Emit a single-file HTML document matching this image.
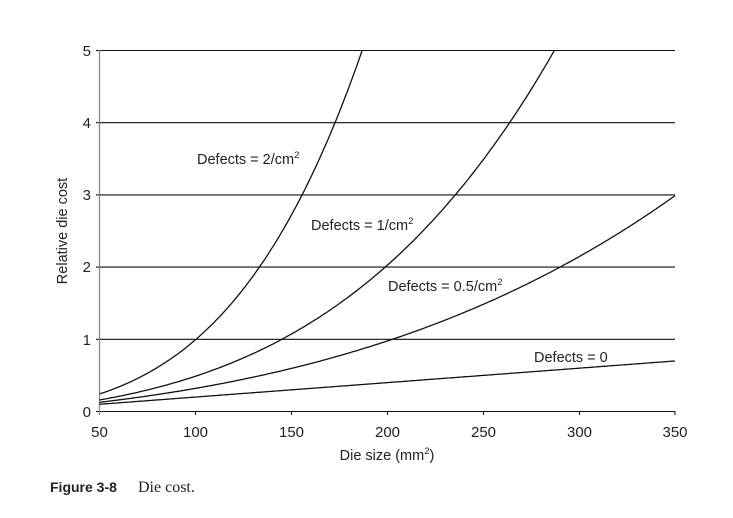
<!DOCTYPE html><html><head><style>body{margin:0;background:#fff}svg{display:block}text{font-family:"Liberation Sans",Arial,sans-serif;fill:#222}</style></head><body>
<svg id="s" width="733" height="518" xmlns="http://www.w3.org/2000/svg">
<g stroke="#111" stroke-width="1.1">
<line x1="99.5" y1="50.5" x2="675" y2="50.5"/><line x1="99.5" y1="122.7" x2="675" y2="122.7"/><line x1="99.5" y1="194.9" x2="675" y2="194.9"/><line x1="99.5" y1="267.1" x2="675" y2="267.1"/><line x1="99.5" y1="339.3" x2="675" y2="339.3"/><line x1="99.5" y1="411.5" x2="675" y2="411.5"/>
<line x1="96" y1="50.5" x2="99.5" y2="50.5"/><line x1="96" y1="122.7" x2="99.5" y2="122.7"/><line x1="96" y1="194.9" x2="99.5" y2="194.9"/><line x1="96" y1="267.1" x2="99.5" y2="267.1"/><line x1="96" y1="339.3" x2="99.5" y2="339.3"/><line x1="96" y1="411.5" x2="99.5" y2="411.5"/>
<line x1="195.5" y1="411.5" x2="195.5" y2="415"/><line x1="291.5" y1="411.5" x2="291.5" y2="415"/><line x1="387.5" y1="411.5" x2="387.5" y2="415"/><line x1="483.5" y1="411.5" x2="483.5" y2="415"/><line x1="579.5" y1="411.5" x2="579.5" y2="415"/><line x1="675" y1="411.5" x2="675" y2="415"/>
</g>
<line x1="99.5" y1="50" x2="99.5" y2="415" stroke="#888" stroke-width="1.3"/>
<g id="c" fill="none" stroke="#111" stroke-width="1.3"></g>
<g font-size="15" text-anchor="end"><text x="91" y="56">5</text><text x="91" y="128">4</text><text x="91" y="200">3</text><text x="91" y="272">2</text><text x="91" y="345">1</text><text x="91" y="417">0</text></g>
<g font-size="15" text-anchor="middle"><text x="99.5" y="437">50</text><text x="195.5" y="437">100</text><text x="291.5" y="437">150</text><text x="387.5" y="437">200</text><text x="483.5" y="437">250</text><text x="579.5" y="437">300</text><text x="675" y="437">350</text></g>
<text font-size="14.5" text-anchor="middle" transform="translate(67,231) rotate(-90)">Relative die cost</text>
<text font-size="14.5" x="387" y="460" text-anchor="middle">Die size (mm<tspan font-size="9.5" dy="-6">2</tspan><tspan dy="6">)</tspan></text>
<g font-size="14.5">
<text x="197" y="164">Defects = 2/cm<tspan font-size="9.5" dy="-6">2</tspan></text>
<text x="311" y="230">Defects = 1/cm<tspan font-size="9.5" dy="-6">2</tspan></text>
<text x="388" y="291">Defects = 0.5/cm<tspan font-size="9.5" dy="-6">2</tspan></text>
<text x="534" y="362">Defects = 0</text>
</g>
<text x="50" y="492" font-size="14" font-weight="bold">Figure 3-8</text>
<text x="138" y="492" font-size="16" style="font-family:'Liberation Serif',serif">Die cost.</text>
</svg>
<script>
var g=document.getElementById('c');
function f(D,A){var a=D==2?3.75:4;return 0.002*A*Math.pow(1+D*A/(100*a),a);}
[0,0.5,1,2].forEach(function(D){var p=[];for(var A=50;A<=350;A+=1){var v=f(D,A);var x=99.5+(A-50)*1.9183,y=411.5-v*72.2;if(y<50.5){var lo=A-1,hi=A;for(var i=0;i<30;i++){var m=(lo+hi)/2;if(f(D,m)<5)lo=m;else hi=m;}p.push((99.5+(lo-50)*1.9183).toFixed(1)+','+50.5);break;}p.push(x.toFixed(1)+','+y.toFixed(1));}
var e=document.createElementNS('http://www.w3.org/2000/svg','polyline');e.setAttribute('points',p.join(' '));g.appendChild(e);});
</script>
</body></html>
